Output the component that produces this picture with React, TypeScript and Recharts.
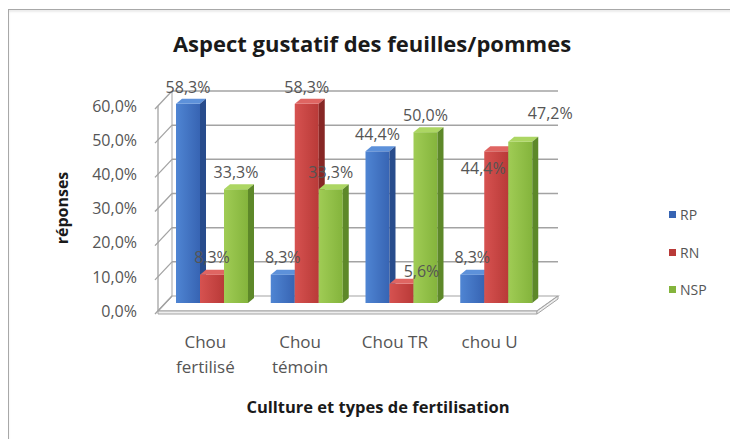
import React from 'react';
import { BarChart, Bar, XAxis, YAxis, CartesianGrid, Legend, LabelList } from 'recharts';

// ---------- data ----------
const categories = ['Chou\nfertilisé', 'Chou\ntémoin', 'Chou TR', 'chou U'];
const seriesNames = ['RP', 'RN', 'NSP'];
const rpValues = [58.3, 8.3, 44.4, 8.3];
const rnValues = [8.3, 58.3, 5.6, 44.4];
const nspValues = [33.3, 33.3, 50.0, 47.2];
const yTicks = [0, 10, 20, 30, 40, 50, 60];

const data = categories.map((cat, i) => ({
  cat,
  RP: rpValues[i],
  RN: rnValues[i],
  NSP: nspValues[i],
}));

// ---------- layout ----------
const W = 730;
const H = 439;
const PLOT_LEFT = 158;
const PLOT_RIGHT = 597;
const PLOT_TOP = 106;
const PLOT_BOTTOM = 311;
const PLOT_H = PLOT_BOTTOM - PLOT_TOP;
const YAXIS_W = 60;
const XAXIS_H = 30;
const MARGIN = {
  top: PLOT_TOP,
  right: W - PLOT_RIGHT,
  bottom: H - PLOT_BOTTOM - XAXIS_H,
  left: PLOT_LEFT - YAXIS_W,
};

// 3D look
const BACK_DX_L = 14;
const BACK_DX_R = 21;
const BACK_DY = -15;
const BAR_DX = 7;
const BAR_DY = -8;
const DEPTH_X = 6;
const DEPTH_Y = -5;

const FONT = '"Open Sans", "DejaVu Sans", sans-serif';
const GRID = '#a3a3a3';
const TEXT = '#555555';

const palette: Record<string, { a: string; b: string; top: string; side: string }> = {
  RP: { a: '#4f85d3', b: '#3764b3', top: '#5d91da', side: '#284c8c' },
  RN: { a: '#d65250', b: '#b93a38', top: '#df6562', side: '#872725' },
  NSP: { a: '#a0cc55', b: '#84b43c', top: '#acd663', side: '#5d8829' },
};

// label nudges (relative offsets of a few labels as placed in the original)
const labelNudge: Record<string, Record<number, { dx: number; dy: number }>> = {
  RN: { 2: { dx: 20, dy: 4 }, 3: { dx: -13, dy: 34 } },
  NSP: { 3: { dx: 30, dy: -11 } },
};

const fmt = (v: number) => v.toFixed(1).replace('.', ',') + '%';

const make3DBar = (name: string) => (props: any) => {
  const { x, y, width, height } = props;
  if (width == null || height == null || height <= 0) return <g />;
  const c = palette[name];
  const fx = x + BAR_DX;
  const fy = y + BAR_DY;
  const w = width;
  const h = height;
  return (
    <g>
      <rect x={fx} y={fy} width={w} height={h} fill={`url(#grad-${name})`} />
      <polygon
        points={`${fx},${fy} ${fx + w},${fy} ${fx + w + DEPTH_X},${fy + DEPTH_Y} ${fx + DEPTH_X},${fy + DEPTH_Y}`}
        fill={c.top}
      />
      <polygon
        points={`${fx + w},${fy} ${fx + w + DEPTH_X},${fy + DEPTH_Y} ${fx + w + DEPTH_X},${fy + h + DEPTH_Y} ${fx + w},${fy + h}`}
        fill={c.side}
      />
    </g>
  );
};

const makeLabel = (name: string) => (props: any) => {
  const { x, y, width, value, index } = props;
  const n = (labelNudge[name] && labelNudge[name][index]) || { dx: 0, dy: 0 };
  const cx = x + BAR_DX + width / 2 + n.dx;
  const cy = y + BAR_DY - 17 + n.dy;
  return (
    <text x={cx} y={cy} dy="0.36em" textAnchor="middle" fontFamily={FONT} fontSize={16} fill={TEXT}>
      {fmt(value)}
    </text>
  );
};

const renderGridLine = (props: any) => {
  const { x1, x2, y1 } = props;
  const y = y1;
  const by = y + BACK_DY;
  const bl = x1 + BACK_DX_L;
  const br = x2 + BACK_DX_R;
  const isBottom = Math.abs(y - PLOT_BOTTOM) < 1.5;
  return (
    <g key={`grid-${y}`}>
      {isBottom && (
        <g>
          <polygon points={`${x1},${y} ${x2},${y} ${br},${by} ${bl},${by}`} fill="#ffffff" stroke={GRID} strokeWidth={1.2} />
          <polygon points={`${x1},${y} ${x2},${y} ${x2},${y + 3} ${x1},${y + 3}`} fill="#eeeeee" stroke={GRID} strokeWidth={1} />
          <polygon points={`${x2},${y} ${br},${by} ${br},${by + 3} ${x2},${y + 3}`} fill="#eeeeee" stroke={GRID} strokeWidth={1} />
          <line x1={x1} y1={y} x2={x1} y2={y - PLOT_H} stroke={GRID} strokeWidth={1.3} />
          <line x1={bl} y1={by} x2={bl} y2={by - PLOT_H} stroke={GRID} strokeWidth={1} />
        </g>
      )}
      <line x1={x1 - 3} y1={y + 3} x2={bl} y2={by} stroke={GRID} strokeWidth={1.3} />
      {!isBottom && <line x1={bl} y1={by} x2={br} y2={by} stroke={GRID} strokeWidth={1.5} />}
    </g>
  );
};

const XTick = (props: any) => {
  const { x, y, payload } = props;
  const lines = String(payload.value).split('\n');
  return (
    <text x={x} y={y + 29} textAnchor="middle" fontFamily={FONT} fontSize={17} fill={TEXT}>
      {lines.map((l, i) => (
        <tspan key={i} x={x} dy={i === 0 ? 0 : 25}>
          {l}
        </tspan>
      ))}
    </text>
  );
};

const YTick = (props: any) => {
  const { y, payload } = props;
  return (
    <text x={PLOT_LEFT - 21} y={y} dy="0.36em" textAnchor="end" fontFamily={FONT} fontSize={16} fill={TEXT}>
      {fmt(payload.value)}
    </text>
  );
};

const LegendContent = (props: any) => {
  const payload = [...(props.payload || [])].sort(
    (a: any, b: any) => seriesNames.indexOf(a.value) - seriesNames.indexOf(b.value)
  );
  return (
    <div style={{ fontFamily: FONT }}>
      {payload.map((p: any) => (
        <div key={p.value} style={{ height: 37.5, display: 'flex', alignItems: 'center' }}>
          <span style={{ display: 'inline-block', width: 7, height: 7, background: palette[p.value].b, marginRight: 4 }} />
          <span style={{ fontSize: 14, color: TEXT }}>{p.value}</span>
        </div>
      ))}
    </div>
  );
};

export default function App() {
  return (
    <div style={{ position: 'relative', width: W, height: H, overflow: 'hidden', background: '#ffffff' }}>
      <style>{'body{margin:0;}'}</style>
      <div
        style={{
          position: 'absolute',
          left: 8,
          top: 9,
          width: W + 20,
          height: H + 20,
          border: '1px solid #a8a8a8',
          boxShadow: 'inset 0 2px 2px rgba(0,0,0,0.08)',
        }}
      />
      <div style={{ position: 'absolute', left: 0, top: 0 }}>
        <BarChart width={W} height={H} data={data} margin={MARGIN} barSize={24} barGap={0}>
          <defs>
            {seriesNames.map((n) => (
              <linearGradient key={n} id={`grad-${n}`} x1="0" y1="0" x2="1" y2="0">
                <stop offset="0%" stopColor={palette[n].a} />
                <stop offset="100%" stopColor={palette[n].b} />
              </linearGradient>
            ))}
          </defs>
          <CartesianGrid vertical={false} horizontal={renderGridLine} />
          <XAxis dataKey="cat" axisLine={false} tickLine={false} tick={<XTick />} height={XAXIS_H} interval={0} />
          <YAxis
            domain={[0, 60]}
            ticks={yTicks}
            axisLine={false}
            tickLine={false}
            tick={<YTick />}
            width={YAXIS_W}
            interval={0}
          />
          <Legend
            layout="vertical"
            align="right"
            verticalAlign="top"
            content={<LegendContent />}
            wrapperStyle={{ left: 669, top: 196, width: 60, right: 'auto' }}
          />
          {seriesNames.map((n) => (
            <Bar key={n} dataKey={n} name={n} fill={palette[n].b} shape={make3DBar(n)} isAnimationActive={false}>
              <LabelList dataKey={n} content={makeLabel(n)} />
            </Bar>
          ))}
        </BarChart>
      </div>
      <svg width={W} height={H} style={{ position: 'absolute', left: 0, top: 0, pointerEvents: 'none' }}>
        <text x={372} y={52} textAnchor="middle" fontFamily={FONT} fontWeight={700} fontSize={22} fill="#1a1a1a">
          Aspect gustatif des feuilles/pommes
        </text>
        <text
          x={62}
          y={208}
          dy="0.36em"
          textAnchor="middle"
          transform="rotate(-90 62 208)"
          fontFamily={FONT}
          fontWeight={700}
          fontSize={16}
          fill="#1a1a1a"
        >
          réponses
        </text>
        <text x={378} y={413} textAnchor="middle" fontFamily={FONT} fontWeight={700} fontSize={16.5} fill="#1a1a1a">
          Cullture et types de fertilisation
        </text>
      </svg>
    </div>
  );
}
